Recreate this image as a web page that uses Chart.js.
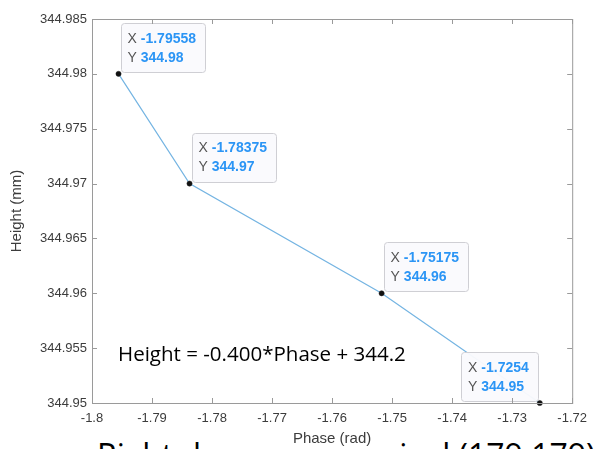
<!DOCTYPE html>
<html>
<head>
<meta charset="utf-8">
<script src="https://cdn.jsdelivr.net/npm/chart.js@4.4.1/dist/chart.umd.min.js"></script>
<style>
  html, body { margin: 0; padding: 0; background: #fff; overflow: hidden; }
  #wrap { position: relative; width: 595px; height: 449px; overflow: hidden; }
  #caption { position: absolute; left: 97px; top: 433px; white-space: nowrap;
             font-family: "Open Sans", sans-serif; font-size: 32px; color: #000; }
  canvas { position: absolute; left: 0; top: 0; }
</style>
</head>
<body>
<div id="wrap">
  <div id="caption">Right down corner pixel (179,179)</div>
  <canvas id="c" width="595" height="449"></canvas>
</div>
<script>
// measured points (phase in rad, height in mm)
var phase = [-1.79558, -1.78375, -1.75175, -1.7254];
var height = [344.98, 344.97, 344.96, 344.95];
// datatip text as shown on the figure
var tipX = ['-1.79558', '-1.78375', '-1.75175', '-1.7254'];
var tipY = ['344.98', '344.97', '344.96', '344.95'];
var tipSide = ['right', 'right', 'right', 'left'];
var fitText = 'Height = -0.400*Phase + 344.2';

var axisGrey = '#9a9a9a';
var sans = '"Liberation Sans", Arial, sans-serif';

// white patch behind the x label, it sits over the caption
var labelPatch = {
  id: 'labelPatch',
  beforeDraw: function(chart) {
    var ctx = chart.ctx, a = chart.chartArea;
    ctx.save();
    ctx.font = '15px ' + sans;
    var w = ctx.measureText('Phase (rad)').width;
    var cx = (a.left + a.right) / 2;
    ctx.fillStyle = '#fff';
    ctx.fillRect(cx - w / 2 - 4, 430, w + 8, 19);
    ctx.restore();
  }
};

// box outline with inward ticks like the matlab axes
var boxAxes = {
  id: 'boxAxes',
  afterDraw: function(chart) {
    var ctx = chart.ctx, a = chart.chartArea;
    var xs = chart.scales.x, ys = chart.scales.y;
    ctx.save();
    ctx.strokeStyle = axisGrey;
    ctx.lineWidth = 1;
    ctx.strokeRect(a.left + 0.5, a.top + 0.5, a.right - a.left, a.bottom - a.top);
    ctx.beginPath();
    xs.ticks.forEach(function(t) {
      var px = Math.round(xs.getPixelForValue(t.value)) + 0.5;
      ctx.moveTo(px, a.bottom); ctx.lineTo(px, a.bottom - 5);
      ctx.moveTo(px, a.top); ctx.lineTo(px, a.top + 5);
    });
    ys.ticks.forEach(function(t) {
      var py = Math.round(ys.getPixelForValue(t.value)) + 0.5;
      ctx.moveTo(a.left, py); ctx.lineTo(a.left + 5, py);
      ctx.moveTo(a.right, py); ctx.lineTo(a.right - 5, py);
    });
    ctx.stroke();
    ctx.restore();
  }
};

// datatips and the fit equation
var tips = {
  id: 'tips',
  afterDatasetsDraw: function(chart) {
    var ctx = chart.ctx;
    var meta = chart.getDatasetMeta(0);
    ctx.save();
    ctx.textBaseline = 'middle';
    meta.data.forEach(function(pt, i) {
      var fr = '14px ' + sans;
      var fb = 'bold 14px ' + sans;
      ctx.font = fr;
      var wx = ctx.measureText('X ').width;
      ctx.font = fb;
      var wv = Math.max(ctx.measureText(tipX[i]).width, ctx.measureText(tipY[i]).width);
      var w = 7 + wx + wv + 9, h = 49;
      var bx = tipSide[i] === 'right' ? pt.x + 2 : pt.x - 2 - w;
      var by = pt.y - 2 - h;
      ctx.fillStyle = 'rgba(250,250,253,0.96)';
      ctx.strokeStyle = '#cfcfd4';
      ctx.lineWidth = 1;
      ctx.beginPath();
      ctx.roundRect(Math.round(bx) + 0.5, Math.round(by) + 0.5, Math.round(w), h, 3);
      ctx.fill(); ctx.stroke();
      var tx = bx + 7;
      ctx.font = fr; ctx.fillStyle = '#555';
      ctx.fillText('X ', tx, by + 16);
      ctx.fillText('Y ', tx, by + 35);
      ctx.font = fb; ctx.fillStyle = '#2b95f5';
      ctx.fillText(tipX[i], tx + wx, by + 16);
      ctx.fillText(tipY[i], tx + wx, by + 35);
    });
    // equation of the linear fit
    var size = 18;
    ctx.font = size + 'px "Open Sans", sans-serif';
    var tw = ctx.measureText(fitText).width;
    size = size * 288 / tw;
    ctx.font = size + 'px "Open Sans", sans-serif';
    ctx.fillStyle = '#000';
    ctx.textBaseline = 'middle';
    ctx.fillText(fitText, 118, 355);
    ctx.restore();
  }
};

new Chart(document.getElementById('c'), {
  type: 'scatter',
  data: {
    datasets: [{
      data: phase.map(function(p, i) { return { x: p, y: height[i] }; }),
      showLine: true,
      borderColor: '#74b4e2',
      borderWidth: 1.2,
      pointRadius: 2.6,
      pointBackgroundColor: '#111',
      pointBorderColor: '#222',
      pointBorderWidth: 0.5,
      clip: false
    }]
  },
  options: {
    responsive: false,
    animation: false,
    layout: { padding: { left: 0, right: 21, top: 19, bottom: 0 } },
    plugins: { legend: { display: false }, tooltip: { enabled: false } },
    scales: {
      x: {
        type: 'linear', min: -1.8, max: -1.72,
        afterFit: function(s) { s.height = 46; },
        ticks: {
          stepSize: 0.01, padding: 8, color: '#3c3c3c',
          font: { family: sans, size: 13 },
          callback: function(v) { return String(Number(v.toFixed(3))); }
        },
        grid: { display: false, drawTicks: false },
        border: { display: false },
        title: { display: true, text: 'Phase (rad)', color: '#3c3c3c',
                 font: { family: sans, size: 15 },
                 padding: { top: 0, bottom: 1 } }
      },
      y: {
        type: 'linear', min: 344.95, max: 344.985,
        afterFit: function(s) { s.width = 92; },
        ticks: {
          stepSize: 0.005, padding: 5, color: '#3c3c3c',
          font: { family: sans, size: 13 },
          callback: function(v) { return String(Number(v.toFixed(3))); }
        },
        grid: { display: false, drawTicks: false },
        border: { display: false },
        title: { display: true, text: 'Height (mm)', color: '#3c3c3c',
                 font: { family: sans, size: 15 },
                 padding: { top: 8, bottom: 0 } }
      }
    }
  },
  plugins: [labelPatch, boxAxes, tips]
});
</script>
</body>
</html>
